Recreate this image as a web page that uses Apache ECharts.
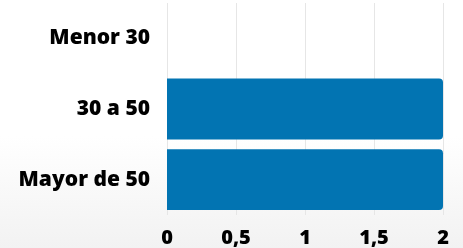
<!DOCTYPE html>
<html>
<head>
<meta charset="utf-8">
<script src="https://cdn.jsdelivr.net/npm/echarts@6/dist/echarts.min.js"></script>
<style>
  html, body { margin: 0; padding: 0; }
  #chart { width: 463px; height: 248px; }
</style>
</head>
<body>
<div id="chart"></div>
<script>
// datos
var categories = ['Menor 30', '30 a 50', 'Mayor de 50']
var values = [0, 2, 2]
var xTicks = [0, 0.5, 1, 1.5, 2]

var myChart = echarts.init(document.getElementById('chart'))

var option = {
  backgroundColor: {
    type: 'linear', x: 0, y: 0, x2: 0, y2: 1,
    colorStops: [
      { offset: 0, color: '#ffffff' },
      { offset: 0.55, color: '#ffffff' },
      { offset: 1, color: '#f2f2f2' }
    ]
  },
  textStyle: { fontFamily: 'Open Sans' },
  grid: {
    left: 167,
    right: 20,
    top: 3,
    bottom: 31
  },
  xAxis: {
    type: 'value',
    min: xTicks[0],
    max: xTicks[xTicks.length - 1],
    interval: 0.5,
    axisLine: { show: false },
    axisTick: { show: false },
    splitLine: { lineStyle: { color: '#e6e6e6' } },
    axisLabel: {
      color: '#000',
      fontWeight: 800,
      fontSize: 20,
      margin: 13,
      formatter: function (v) { return String(v).replace('.', ',') }
    }
  },
  yAxis: {
    type: 'category',
    inverse: true,
    data: categories,
    axisLine: { show: false },
    axisTick: { show: false },
    axisLabel: {
      color: '#000',
      fontWeight: 800,
      fontSize: 21,
      margin: 17
    }
  },
  series: [
    {
      type: 'bar',
      data: values,
      barCategoryGap: '14%',
      itemStyle: {
        color: '#0274b2',
        borderRadius: [0, 4, 4, 0]
      }
    }
  ]
}

myChart.setOption(option)
</script>
</body>
</html>
